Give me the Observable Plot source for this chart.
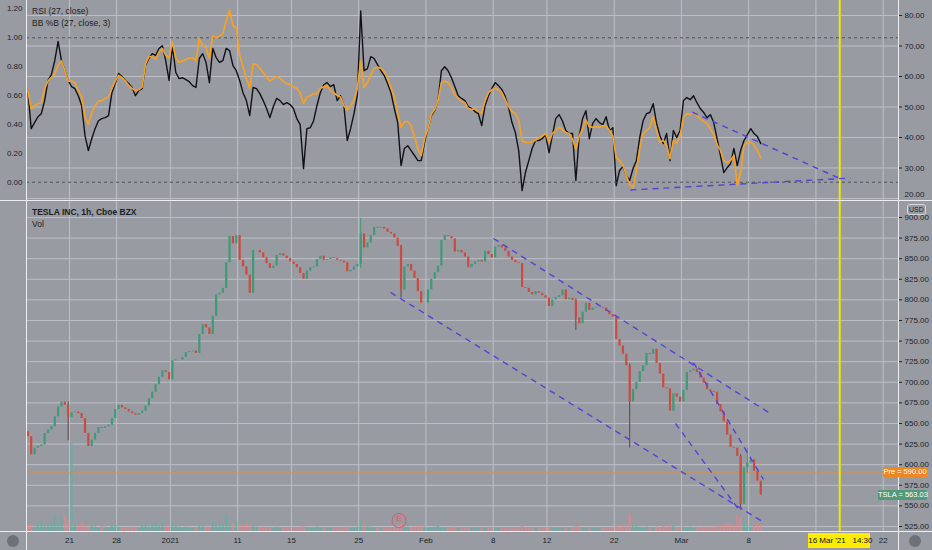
<!DOCTYPE html>
<html><head><meta charset="utf-8">
<script src="https://cdn.jsdelivr.net/npm/d3@7"></script>
<script src="https://cdn.jsdelivr.net/npm/@observablehq/plot@0.6"></script>
<style>
html,body{margin:0;padding:0;background:#999ba3;}
#chart{position:relative;width:932px;height:550px;background:#999ba3;overflow:hidden;font-family:"Liberation Sans",Arial,sans-serif;}
#chart svg{position:absolute;left:0;}
.sep{position:absolute;background:#eceef1;}
.txt{position:absolute;font-size:8.5px;color:#1c1e24;white-space:nowrap;line-height:10px;}
.badge{position:absolute;font-size:7.5px;color:#fff;white-space:nowrap;height:10px;line-height:10px;text-align:center;border-radius:1px;}
.circ{position:absolute;width:12px;height:12px;border-radius:50%;background:#6f7178;}
</style></head><body><div id="chart"></div><script>
// ---------- data ----------
const firstBarDay = -3.1;      // trading-day index of first 2h bar (0 = Dec 21 2020)
const barDays = 0.25;          // trading days per bar
const firstOpen = 640;
const closes = [
634,612,620,622,624,638,642,646,658,670,
676,672,657,663,664,662,656,638,622,630,
638,645,644,646,648,656,667,672,669,667,
664,662,660,662,665,671,680,688,697,706,
714,712,703,726,727,727,730,736,737,738,
735,758,770,766,758,780,806,808,814,845,
877,868,878,848,840,830,808,860,860,857,
851,844,838,841,854,856,853,850,846,843,
839,832,825,835,839,840,849,853,848,849,
851,850,848,847,845,834,836,840,843,880,
863,869,878,888,887,888,886,882,880,875,
865,812,840,843,835,826,810,796,796,812,
825,833,841,872,878,877,874,858,860,857,
852,839,843,846,848,846,859,855,851,864,
866,863,859,852,848,845,844,815,814,809,
806,810,808,805,802,792,800,803,805,812,
800,802,799,778,771,785,796,787,790,791,
791,790,786,782,779,752,744,734,720,676,
691,700,713,720,735,734,740,723,710,693,
692,665,686,682,676,690,712,714,716,712,
705,699,691,689,688,673,664,652,636,621,
620,610,552,596,602,606,592,580,563];
const rsiValues = [
55.4,42.9,44.9,46.8,47.8,52.1,58.7,60.6,65.2,71.5,
65.2,61.9,58.7,56.7,56.0,53.7,50.5,40.6,35.7,39.6,
42.9,45.5,46.2,46.5,47.2,54.7,57.7,61.0,60.0,58.7,
57.7,56.4,53.7,55.4,56.0,63.6,65.9,67.5,66.9,69.2,
70.1,65.2,58.7,70.1,61.3,59.3,59.6,59.0,58.3,57.0,
56.4,65.9,67.5,64.6,58.0,69.2,66.2,64.6,65.2,69.2,
68.5,63.6,61.9,58.7,54.7,52.1,47.2,56.4,56.0,54.4,
52.1,49.5,46.5,50.1,52.8,52.1,50.8,51.4,50.8,49.5,
46.2,44.2,29.8,42.9,43.2,45.5,50.5,54.7,57.3,58.0,
56.7,57.3,52.1,53.7,50.5,39.0,42.9,47.8,53.7,81.5,
61.9,62.6,66.5,65.9,63.9,61.9,60.3,57.7,54.7,49.5,
44.9,30.8,36.4,37.3,35.7,34.1,32.4,32.4,38.3,42.9,
47.2,48.8,52.1,61.9,63.2,61.9,59.6,56.7,53.7,52.8,
52.1,50.1,49.5,48.5,47.8,43.9,50.5,53.7,56.0,58.0,
57.0,55.7,53.4,49.8,44.9,41.6,35.7,22.6,28.5,32.4,
36.4,39.0,39.0,39.6,40.9,35.0,40.6,46.2,47.5,45.5,
42.3,41.3,41.3,25.9,40.6,46.2,48.8,39.6,44.6,46.2,
44.9,44.2,46.8,42.3,43.2,24.2,29.2,30.5,27.5,25.9,
29.8,32.4,40.0,45.5,47.8,48.2,51.1,44.6,40.6,38.0,
41.3,32.4,42.3,40.0,42.3,52.1,53.1,52.4,53.7,51.4,
49.5,48.2,46.5,47.5,44.9,39.6,34.1,28.5,30.1,31.4,
36.4,30.8,35.7,39.0,40.9,42.9,41.3,40.3,38.0];
const pctBValues = [
0.635,0.51,0.53,0.545,0.55,0.65,0.70,0.725,0.75,0.81,
0.84,0.77,0.70,0.70,0.69,0.635,0.59,0.45,0.40,0.48,
0.53,0.56,0.565,0.58,0.59,0.65,0.70,0.74,0.725,0.70,
0.67,0.65,0.635,0.64,0.66,0.82,0.87,0.87,0.85,0.90,
0.925,0.88,0.86,0.97,0.86,0.83,0.84,0.85,0.86,0.86,
0.84,0.995,0.95,0.93,0.86,1.015,1.00,1.01,1.03,1.12,
1.19,1.085,1.07,0.88,0.80,0.72,0.65,0.82,0.815,0.79,
0.76,0.725,0.70,0.72,0.73,0.72,0.70,0.683,0.676,0.66,
0.65,0.62,0.545,0.59,0.60,0.614,0.614,0.65,0.66,0.67,
0.635,0.62,0.60,0.59,0.53,0.50,0.53,0.565,0.65,0.84,
0.655,0.69,0.745,0.79,0.795,0.79,0.766,0.72,0.655,0.59,
0.48,0.38,0.42,0.42,0.39,0.32,0.23,0.185,0.30,0.37,
0.47,0.503,0.565,0.69,0.70,0.69,0.655,0.607,0.58,0.56,
0.55,0.51,0.503,0.51,0.49,0.48,0.565,0.62,0.64,0.65,
0.64,0.62,0.57,0.524,0.49,0.475,0.43,0.29,0.275,0.275,
0.28,0.29,0.31,0.32,0.337,0.275,0.337,0.358,0.38,0.365,
0.344,0.337,0.30,0.23,0.32,0.37,0.43,0.385,0.38,0.385,
0.38,0.39,0.39,0.358,0.32,0.17,0.15,0.115,0.046,-0.016,
-0.04,0.08,0.23,0.337,0.358,0.38,0.455,0.358,0.275,0.29,
0.254,0.164,0.29,0.268,0.32,0.448,0.475,0.47,0.482,0.46,
0.44,0.42,0.406,0.37,0.33,0.26,0.22,0.15,0.136,0.15,
0.185,-0.023,0.067,0.254,0.275,0.28,0.254,0.22,0.17];
const volumes = [
6,8,5,7,12,6,7,8,20,9,
15,18,13,100,7,6,10,6,5,7,
5,4,6,5,4,6,7,5,4,3,
4,3,5,4,6,7,5,8,9,6,
10,6,5,8,6,5,4,5,4,3,
4,7,6,5,5,11,7,6,8,18,
8,9,11,7,6,8,7,6,5,4,
5,4,4,3,5,4,4,3,4,3,
4,5,6,4,3,4,5,4,3,3,
4,3,3,4,3,5,4,4,5,12,
8,6,5,4,4,3,4,3,4,5,
5,9,6,5,4,5,6,7,5,4,
4,5,6,4,4,3,4,5,4,3,
3,4,3,3,4,3,4,3,3,4,
3,3,4,3,3,4,3,6,4,4,
3,4,3,3,4,5,4,3,3,3,
4,3,3,6,5,4,3,3,4,3,
3,4,3,4,3,6,5,6,7,20,
9,6,5,4,5,4,4,5,4,6,
5,7,6,4,5,5,4,5,4,5,
4,5,4,5,5,6,6,7,8,9,
7,18,16,13,6,5,6,10,7];
const wickIdx  = [12, 99, 111, 163, 179, 212, 214];
const wickLow  = [629, 838, 802, 763, 620, 545, 590];
const wickHigh = [676, 899, 866, 801, 722, 612, 620];

const tickDays   = [0, 3.5, 7.5, 12.5, 16.5, 21.5, 26.5, 31.5, 35.5, 40.5, 45.5, 50.5, 55.5, 60.5];
const tickLabels = ["21","28","2021","11","15","25","Feb","8","12","22","Mar","8","","22"];
const rsiTicks   = [20,30,40,50,60,70,80];
const rsiLabelTicks = [30,40,50,60,70,80];
const rsiEdgeTick = 20;
const pctTicks   = [0,0.2,0.4,0.6,0.8,1.0,1.2];
const pctBands   = [0,1];
const priceTicks = [525,550,575,600,625,650,675,700,725,750,775,800,825,850,875,900];

const trendStartDay   = [31.52, 23.87, 45.06, 46.39];
const trendStartPrice = [874.5, 809, 650, 724];
const trendEndDay     = [52.12, 51.52, 49.74, 51.6];
const trendEndPrice   = [662, 531, 546, 582];
const rsiTrendStartDay = [46.3, 41.71];
const rsiTrendStartVal = [48.3, 22.8];
const rsiTrendEndDay   = [57.2, 58.07];
const rsiTrendEndVal   = [26.7, 26.7];

const prePrice = 590.00, lastPrice = 563.03;
const markDay = 57.27, markDate = "16 Mar '21", markTime = "14:30";
const earningsDay = 24.5;

// ---------- build ----------
const W = 932, ML = 26, MR = 34;
const xDomain = [-3.2, 61.64];
const UP = "#3e9a77", DOWN = "#cc4a3e";
const GRID = "#bdbfc5";
const FONT = "'Liberation Sans', Arial, sans-serif";
const fmt2 = d3.format(".2f");
const bars = closes.map((c, i) => {
  const open = i ? closes[i - 1] : firstOpen;
  const w = wickIdx.indexOf(i);
  return {day: firstBarDay + i * barDays, open, close: c, up: c >= open,
          low: w >= 0 ? wickLow[w] : null, high: w >= 0 ? wickHigh[w] : null,
          vol: volumes[i], rsi: rsiValues[i], pb: pctBValues[i]};
});
const trends = trendStartDay.map((d, i) => ({x1: d, y1: trendStartPrice[i], x2: trendEndDay[i], y2: trendEndPrice[i]}));
const rsiTrends = rsiTrendStartDay.map((d, i) => ({x1: d, y1: rsiTrendStartVal[i], x2: rsiTrendEndDay[i], y2: rsiTrendEndVal[i]}));
const labelOf = d => tickLabels[tickDays.indexOf(d)];

const chart = document.getElementById("chart");
function mk(top, height, opts) {
  const p = Plot.plot(Object.assign({
    width: W, height, marginLeft: ML, marginRight: MR, marginTop: 0, marginBottom: 0,
    style: {background: "transparent", fontFamily: FONT, fontSize: "8px", color: "#202329", overflow: "hidden"},
    color: {type: "identity"}
  }, opts, {x: Object.assign({domain: xDomain, axis: null, label: null}, opts.x || {})}));
  p.style.top = top + "px";
  chart.appendChild(p);
  return p;
}
const rsiY = {domain: [19.34, 84.92], axis: null, label: null};
const pctY = {domain: [-0.1267, 1.2583], axis: null, label: null};

// top panel layer A: grid, RSI axis, RSI line
mk(0, 200, {y: rsiY, marks: [
  Plot.ruleY(rsiTicks, {stroke: GRID, strokeWidth: 1}),
  Plot.ruleX(tickDays, {stroke: GRID, strokeWidth: 1}),
  Plot.axisY(rsiLabelTicks, {anchor: "right", tickFormat: fmt2, tickSize: 3, tickPadding: 3, label: null, fontSize: 8}),
  Plot.text([rsiEdgeTick], {y: d => d, text: d => fmt2(d), frameAnchor: "right", dx: 6, dy: -4, textAnchor: "start", fontSize: 8, fill: "#202329"}),
  Plot.ruleX([markDay], {stroke: "#f3e600", strokeWidth: 2}),
  Plot.line(bars, {x: "day", y: "rsi", stroke: "#111216", strokeWidth: 1.4})
]});
// layer B: %B bands, %B line, left axis
mk(0, 200, {y: pctY, marks: [
  Plot.ruleY(pctBands, {stroke: "#51535b", strokeWidth: 1, strokeDasharray: "3,3"}),
  Plot.line(bars, {x: "day", y: "pb", stroke: "#f4a128", strokeWidth: 1.7}),
  Plot.axisY(pctTicks, {anchor: "left", tickFormat: fmt2, tickSize: 0, tickPadding: 4, label: null, fontSize: 8})
]});
// layer C: RSI trend lines
mk(0, 200, {y: rsiY, marks: [
  Plot.link(rsiTrends, {x1: "x1", y1: "y1", x2: "x2", y2: "y2", stroke: "#5642d8", strokeWidth: 1.4, strokeDasharray: "6,5"})
]});

// price panel
const priceY = {domain: [518.9, 920.6], axis: null, label: null};
const P = mk(200, 350, {marginBottom: 19, y: priceY, marks: [
  Plot.ruleY(priceTicks, {stroke: GRID, strokeWidth: 1}),
  Plot.ruleX(tickDays, {stroke: GRID, strokeWidth: 1}),
  Plot.axisY(priceTicks, {anchor: "right", tickFormat: fmt2, tickSize: 3, tickPadding: 3, label: null, fontSize: 8}),
  Plot.axisX(tickDays, {anchor: "bottom", tickFormat: labelOf, tickSize: 0, tickPadding: 6, label: null, fontSize: 8}),
  Plot.ruleY([prePrice], {stroke: "#ef8a26", strokeWidth: 0.8, strokeOpacity: 0.85}),
  Plot.ruleX([markDay], {stroke: "#f3e600", strokeWidth: 2}),
  Plot.ruleX(bars.filter(d => d.low != null), {x: "day", y1: "low", y2: "high", stroke: d => d.up ? UP : "#5a4a48", strokeWidth: 1}),
  Plot.ruleX(bars, {x: "day", y1: "open", y2: "close", stroke: d => d.up ? UP : DOWN, strokeWidth: 2.2}),
  Plot.link(trends, {x1: "x1", y1: "y1", x2: "x2", y2: "y2", stroke: "#5642d8", strokeWidth: 1.4, strokeDasharray: "6,5"})
]});
// volume overlay
mk(200, 331, {y: {domain: [0, 376], axis: null, label: null}, marks: [
  Plot.ruleX(bars, {x: "day", y1: 0, y2: "vol", stroke: d => d.up ? "#5fb2a2" : "#e3868b", strokeWidth: 2.2, strokeOpacity: 0.75}),
  Plot.dot([earningsDay], {x: d => d, frameAnchor: "bottom", dy: -11, r: 7, stroke: "#e0566b", fill: "none", strokeWidth: 1}),
  Plot.text([earningsDay], {x: d => d, frameAnchor: "bottom", dy: -11, text: () => "E", fill: "#e0566b", fontSize: 8})
]});

// ---------- chrome ----------
function div(cls, css, html) {
  const e = document.createElement("div");
  e.className = cls; e.style.cssText = css; if (html != null) e.innerHTML = html;
  chart.appendChild(e); return e;
}
div("sep", "left:26px;top:0;width:1px;height:550px;");
div("sep", "left:898px;top:0;width:1px;height:550px;");
div("sep", "left:0;top:199.5px;width:932px;height:1.5px;");
div("sep", "left:0;top:531px;width:932px;height:1px;");
div("txt", "left:32px;top:6px;", "RSI (27, close)");
div("txt", "left:32px;top:18px;", "BB %B (27, close, 3)");
div("txt", "left:32px;top:207px;font-weight:bold;", "TESLA INC, 1h, Cboe BZX");
div("txt", "left:32px;top:219px;", "Vol");
div("txt", "left:907px;top:204px;height:9px;line-height:9px;padding:0 1px;font-size:7px;border:1px solid #d5d7dc;border-radius:3px;background:#999ba3;color:#202329;", "USD");

const ys = P.scale("y"), xs = P.scale("x");
div("badge", `right:5px;width:44px;top:${200 + ys.apply(prePrice) - 5}px;background:#f0861e;`, "Pre = " + prePrice.toFixed(2));
div("badge", `right:5px;width:49px;top:${200 + ys.apply(lastPrice) - 5}px;background:#52997a;`, "TSLA = " + lastPrice.toFixed(2));
const mx = xs.apply(markDay);
div("txt", `left:${mx - 31}px;top:533px;width:62px;height:15px;line-height:15px;background:#ffec00;text-align:center;font-size:8px;color:#111;`, markDate + "&nbsp;&nbsp;&nbsp;" + markTime);
div("circ", "left:7px;top:535px;");
div("circ", "left:909px;top:535px;");
</script></body></html>
